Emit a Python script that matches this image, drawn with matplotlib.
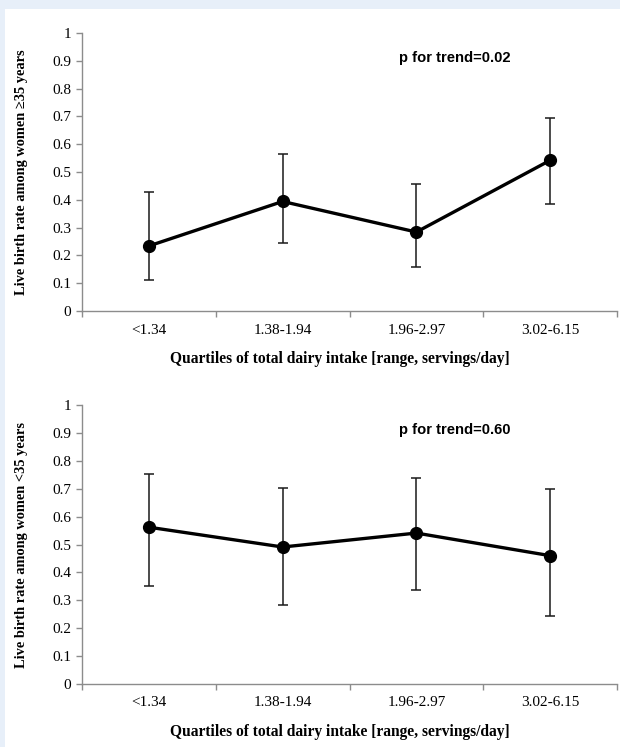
import matplotlib
matplotlib.use("Agg")
import matplotlib.pyplot as plt
from matplotlib.patches import Rectangle

categories = ["<1.34", "1.38-1.94", "1.96-2.97", "3.02-6.15"]
ytick_vals = [0, 0.1, 0.2, 0.3, 0.4, 0.5, 0.6, 0.7, 0.8, 0.9, 1]
ytick_labels = ["0", "0.1", "0.2", "0.3", "0.4", "0.5", "0.6", "0.7", "0.8", "0.9", "1"]

# Women >= 35 years
old_rate = [0.234, 0.394, 0.284, 0.542]
old_lower = [0.113, 0.246, 0.157, 0.384]
old_upper = [0.428, 0.566, 0.457, 0.694]

# Women < 35 years
young_rate = [0.562, 0.491, 0.541, 0.460]
young_lower = [0.352, 0.282, 0.336, 0.243]
young_upper = [0.752, 0.703, 0.738, 0.698]

xlabel = "Quartiles of total dairy intake [range, servings/day]"
ylabels = ["Live birth rate among women \u226535 years", "Live birth rate among women <35 years"]
ptexts = ["p for trend=0.02", "p for trend=0.60"]

W, H = 620, 747
fig = plt.figure(figsize=(W / 100, H / 100), dpi=100)
fig.patch.set_facecolor("#e7eff9")
bg = Rectangle((5 / W, 0), 1 - 5 / W, 1 - 9 / H, transform=fig.transFigure,
               facecolor="white", edgecolor="none", zorder=-10)
fig.add_artist(bg)

serif = ["Liberation Serif", "DejaVu Serif"]
sans = ["Liberation Sans", "DejaVu Sans"]
axis_color = "#8c8c8c"

panels = [
    (old_rate, old_lower, old_upper, 33, 311),
    (young_rate, young_lower, young_upper, 405, 684),
]

for i, (rate, lo, hi, ytop, ybot) in enumerate(panels):
    left = 82 / W
    right = 617 / W
    ax = fig.add_axes([left, 1 - ybot / H, right - left, (ybot - ytop) / H])
    ax.set_facecolor("none")
    ax.set_zorder(1)
    x = list(range(len(categories)))
    yerr = [[r - l for r, l in zip(rate, lo)], [h - r for r, h in zip(rate, hi)]]
    ax.errorbar(x, rate, yerr=yerr, fmt="none", ecolor="#1a1a1a", elinewidth=1.1,
                capsize=3.5, capthick=1.1, zorder=2)
    ax.plot(x, rate, color="black", lw=2.4, marker="o", markersize=8.5, zorder=3)
    ax.set_xlim(-0.5, 3.5)
    ax.set_ylim(0, 1)
    ax.set_yticks(ytick_vals)
    ax.set_yticklabels(ytick_labels, fontfamily=serif, fontsize=11)
    ax.set_xticks(x)
    ax.set_xticklabels(categories, fontfamily=serif, fontsize=11)
    ax.set_xticks([-0.5, 0.5, 1.5, 2.5, 3.5], minor=True)
    ax.tick_params(axis="x", which="major", length=0, pad=9)
    ax.tick_params(axis="x", which="minor", length=4, color=axis_color, width=1)
    ax.tick_params(axis="y", length=4, color=axis_color, width=1, pad=4)
    for s in ["top", "right"]:
        ax.spines[s].set_visible(False)
    for s in ["left", "bottom"]:
        ax.spines[s].set_color(axis_color)
        ax.spines[s].set_linewidth(1)
    ax.set_xlabel(xlabel, fontfamily=serif, fontsize=11.2, fontweight="bold", labelpad=8)
    ax.xaxis.set_label_coords(0.482, -0.143)
    ax.set_ylabel(ylabels[i], fontfamily=serif, fontsize=10.4, fontweight="bold", labelpad=17)
    ax.text(1.87, 0.91, ptexts[i], fontfamily=sans, fontsize=10.6, fontweight="bold",
            ha="left", va="center")

fig.savefig("out.png", dpi=100, facecolor=fig.get_facecolor())
